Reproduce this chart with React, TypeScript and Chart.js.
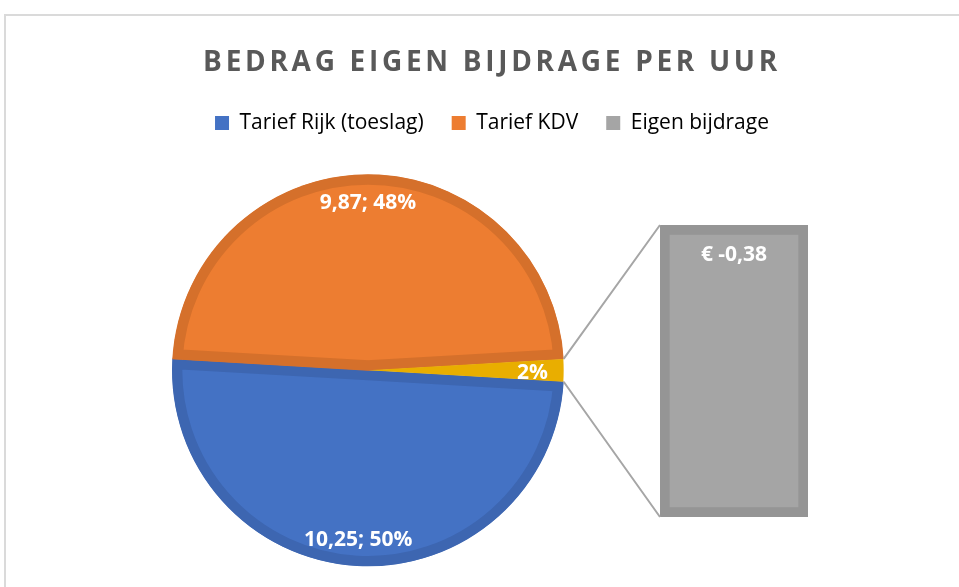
import React, { useEffect, useRef } from 'react';
import { Chart, registerables, Title, layouts } from 'chart.js';

Chart.register(...registerables);

// ---- data ----
const categories = ['Tarief Rijk (toeslag)', 'Tarief KDV', 'Eigen bijdrage'];
const values = [10.25, 9.87, -0.38];
const titleText = 'BEDRAG EIGEN BIJDRAGE PER UUR';
const barLabels = ['Eigen bijdrage'];

// ---- styles ----
const sliceColors = ['#4472C4', '#ED7D31', '#E9AE00'];
const sliceBorders = ['#3D66B1', '#D5702B', '#E9AE00'];
const sliceBorderWidths = [10, 10, 0];
const legendColors = ['#4472C4', '#ED7D31', '#A5A5A5'];
const barFill = '#A5A5A5';
const barBorder = '#959595';
const textGray = '#595959';
const TITLE_SPACING = '3.7px';
const LABEL_Y_SHIFT = 3;
const LABEL_FONT = 'bold 21px "Open Sans"';
const LABEL_H = 20;

const pieValues = values.map((v) => Math.abs(v));
const total = pieValues.reduce((a, b) => a + b, 0);
const otherShare = pieValues[2] / total;
const fmt = (v: number) => v.toFixed(2).replace('.', ',');

// letter spacing for the chart title only
const TitleEl: any = (Title as any)._element;
if (TitleEl && !TitleEl.__spaced) {
  const orig = TitleEl.prototype.draw;
  TitleEl.prototype.draw = function () {
    const ctx = this.ctx;
    const prev = ctx.letterSpacing;
    ctx.letterSpacing = TITLE_SPACING;
    orig.call(this);
    ctx.letterSpacing = prev || '0px';
  };
  TitleEl.__spaced = true;
}

const PIE_RIGHT_SPACE = 248;

const pieSpacer = {
  id: 'pieSpacer',
  beforeInit(chart: any) {
    layouts.addBox(chart, {
      position: 'right',
      weight: 0,
      fullSize: false,
      options: {},
      width: 0,
      height: 0,
      left: 0,
      top: 0,
      right: 0,
      bottom: 0,
      isHorizontal() {
        return false;
      },
      update(_maxW: number, maxH: number) {
        this.width = PIE_RIGHT_SPACE;
        this.height = maxH;
      },
      draw() {},
    } as any);
  },
};

const pieLabels = {
  id: 'pieLabels',
  afterDatasetsDraw(chart: any) {
    const meta = chart.getDatasetMeta(0);
    const ctx = chart.ctx;
    ctx.save();
    ctx.font = LABEL_FONT;
    ctx.fillStyle = '#FFFFFF';
    ctx.textAlign = 'center';
    ctx.textBaseline = 'middle';
    meta.data.forEach((arc: any, i: number) => {
      const v = pieValues[i];
      const pct = Math.round((v / total) * 100);
      const text = i < 2 ? `${fmt(values[i])}; ${pct}%` : `${pct}%`;
      const { x, y, startAngle, endAngle, outerRadius } = arc.getProps(
        ['x', 'y', 'startAngle', 'endAngle', 'outerRadius'],
        true
      );
      const mid = (startAngle + endAngle) / 2;
      const w = ctx.measureText(text).width;
      const ext = (Math.abs(Math.cos(mid)) * w) / 2 + (Math.abs(Math.sin(mid)) * LABEL_H) / 2;
      const d = outerRadius - 16 - ext;
      ctx.fillText(text, x + Math.cos(mid) * d, y + Math.sin(mid) * d + LABEL_Y_SHIFT);
    });
    ctx.restore();
  },
};

export default function App() {
  const pieRef = useRef<HTMLCanvasElement | null>(null);
  const barRef = useRef<HTMLCanvasElement | null>(null);

  useEffect(() => {
    Chart.defaults.font.family = '"Open Sans", sans-serif';
    const pie = new Chart(pieRef.current as HTMLCanvasElement, {
      type: 'pie',
      data: {
        labels: categories,
        datasets: [
          {
            data: pieValues,
            backgroundColor: sliceColors,
            borderColor: sliceBorders,
            borderWidth: sliceBorderWidths,
            borderAlign: 'inner',
          } as any,
        ],
      },
      options: {
        responsive: false,
        animation: false,
        rotation: 90 + otherShare * 180,
        radius: 196,
        layout: { padding: { top: 0, left: 8, right: 0, bottom: 17 } },
        plugins: {
          title: {
            display: true,
            text: titleText,
            color: textGray,
            font: { family: '"Open Sans"', size: 28, weight: 'bold' },
            padding: { top: 32, bottom: 5 },
          },
          legend: {
            display: true,
            position: 'top',
            labels: {
              color: textGray,
              font: { family: '"Open Sans"', size: 21 },
              boxWidth: 14,
              boxHeight: 14,
              padding: 28,
              generateLabels: () =>
                categories.map((c, i) => ({
                  text: c,
                  fillStyle: legendColors[i],
                  strokeStyle: legendColors[i],
                  lineWidth: 0,
                  hidden: false,
                  index: i,
                })),
            },
          },
          tooltip: { enabled: false },
        },
      } as any,
      plugins: [pieSpacer, pieLabels],
    });

    const connectors = {
      id: 'connectors',
      afterDatasetsDraw(chart: any) {
        const arc: any = pie.getDatasetMeta(0).data[2];
        const bar: any = chart.getDatasetMeta(0).data[0];
        if (!arc || !bar) return;
        const { x, y, startAngle, endAngle, outerRadius } = arc.getProps(
          ['x', 'y', 'startAngle', 'endAngle', 'outerRadius'],
          true
        );
        const { x: bx, y: by, base, width } = bar.getProps(['x', 'y', 'base', 'width'], true);
        const left = bx - width / 2;
        const ctx = chart.ctx;
        ctx.save();
        ctx.strokeStyle = '#A6A6A6';
        ctx.lineWidth = 2;
        ctx.beginPath();
        ctx.moveTo(x + Math.cos(startAngle) * outerRadius, y + Math.sin(startAngle) * outerRadius);
        ctx.lineTo(left, by);
        ctx.moveTo(x + Math.cos(endAngle) * outerRadius, y + Math.sin(endAngle) * outerRadius);
        ctx.lineTo(left, base);
        ctx.stroke();
        ctx.font = LABEL_FONT;
        ctx.fillStyle = '#FFFFFF';
        ctx.textAlign = 'center';
        ctx.textBaseline = 'middle';
        ctx.fillText(`€ ${fmt(values[2])}`, bx, by + 27 + LABEL_Y_SHIFT);
        ctx.restore();
      },
    };

    const bar = new Chart(barRef.current as HTMLCanvasElement, {
      type: 'bar',
      data: {
        labels: barLabels,
        datasets: [
          {
            data: [pieValues[2]],
            backgroundColor: barFill,
            borderColor: barBorder,
            borderWidth: 10,
            borderSkipped: false,
            barPercentage: 1,
            categoryPercentage: 1,
          } as any,
        ],
      },
      options: {
        responsive: false,
        animation: false,
        layout: { padding: { left: 655, right: 163, top: 211, bottom: 97 } },
        scales: {
          x: { display: false },
          y: { display: false, min: 0, max: pieValues[2] },
        },
        plugins: {
          legend: { display: false },
          title: { display: false },
          tooltip: { enabled: false },
        },
      } as any,
      plugins: [connectors],
    });

    return () => {
      bar.destroy();
      pie.destroy();
    };
  }, []);

  return (
    <div
      style={{
        position: 'fixed',
        left: 0,
        top: 0,
        width: 959,
        height: 587,
        overflow: 'hidden',
        background: '#FFFFFF',
      }}
    >
      <div
        style={{
          position: 'absolute',
          left: 4,
          top: 14,
          width: 2000,
          height: 2000,
          border: '2px solid #DADADA',
        }}
      />
      <canvas
        ref={pieRef}
        width={966}
        height={600}
        style={{ position: 'absolute', left: 5, top: 14, width: 966, height: 600 }}
      />
      <canvas
        ref={barRef}
        width={966}
        height={600}
        style={{ position: 'absolute', left: 5, top: 14, width: 966, height: 600, pointerEvents: 'none' }}
      />
    </div>
  );
}
